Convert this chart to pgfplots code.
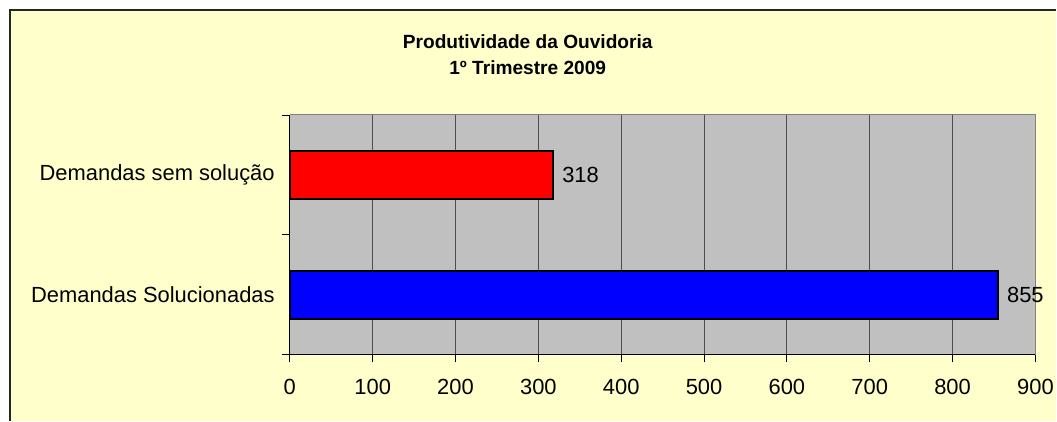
\documentclass[border=0pt]{standalone}
\usepackage{fontspec}
\setmainfont{Liberation Sans}
\usepackage{pgfplots}
\pgfplotsset{compat=1.18}
\definecolor{bgyellow}{HTML}{FFFFCC}
\definecolor{plotgray}{HTML}{C0C0C0}
\definecolor{gridgray}{HTML}{4D4D4D}
\definecolor{framegray}{HTML}{808080}

\begin{document}
\begin{tikzpicture}[x=1bp,y=1bp]
\fill[white] (0,0) rectangle (1057,421);
\fill[bgyellow] (10,0) rectangle (1057,411);
\draw[black!85, line width=1.2bp] (10,0) -- (10,411) -- (1057,411);
\node[font=\bfseries\fontsize{19.2}{26}\selectfont, align=center] at (528,366) {Produtividade da Ouvidoria\\1º Trimestre 2009};
\begin{axis}[
 at={(290bp,66bp)}, anchor=south west,
 scale only axis, width=746bp, height=240bp,
 xbar, bar width=48.5bp, bar shift=0pt,
 xmin=0, xmax=900, ymin=-0.5, ymax=1.5,
 axis background/.style={fill=plotgray},
 axis x line*=bottom, axis y line*=left,
 axis line style={black, line width=1bp},
 xtick={0,100,...,900},
 ytick={0,1}, yticklabels={Demandas Solucionadas, Demandas sem solução},
 ytick style={draw=none},
 xtick style={black, line width=0.8bp},
 tick align=outside, major tick length=7bp,
 xmajorgrids, grid style={gridgray, line width=0.9bp},
 extra y ticks={-0.5,0.5,1.5}, extra y tick labels={},
 extra y tick style={ytick style={draw=black, line width=0.8bp}, grid=none, major tick length=8bp},
 ticklabel style={font=\fontsize{22}{26}\selectfont},
 /pgf/number format/assume math mode=true,
 xticklabel style={inner sep=0pt, anchor=north, yshift=-17bp},
 yticklabel style={inner sep=0pt, anchor=east, xshift=-8bp},
 nodes near coords, nodes near coords align={horizontal},
 every node near coord/.append style={font=\fontsize{22}{26}\selectfont, inner sep=0pt, anchor=west, xshift=8bp, black},
 clip=false,
 enlargelimits=false,
]
\draw[framegray, line width=1bp] (rel axis cs:0,1) -- (rel axis cs:1,1) -- (rel axis cs:1,0);
\addplot[fill=blue, draw=black, line width=2bp] coordinates {(855,0)};
\addplot[fill=red, draw=black, line width=2bp] coordinates {(318,1)};
\end{axis}
\end{tikzpicture}
\end{document}
